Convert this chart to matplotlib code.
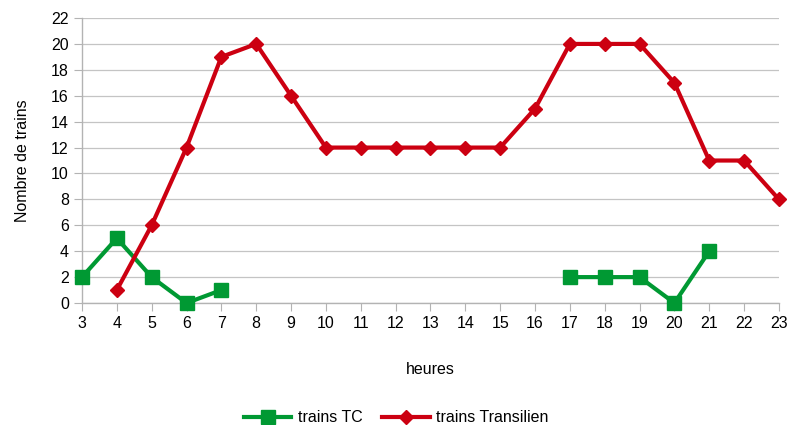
import numpy as np
import matplotlib
matplotlib.use('Agg')
import matplotlib.pyplot as plt

plt.rcParams['font.family'] = ['Liberation Sans', 'DejaVu Sans']

# donnees
hours_tc = [3, 4, 5, 6, 7, 17, 18, 19, 20, 21]
trains_tc = [2, 5, 2, 0, 1, 2, 2, 2, 0, 4]
hours_tr = list(range(4, 24))
trains_tr = [1, 6, 12, 19, 20, 16, 12, 12, 12, 12, 12, 12, 15, 20, 20, 20, 17, 11, 11, 8]

# trou entre 7h et 17h pour les TC
tc_x = hours_tc[:5] + [np.nan] + hours_tc[5:]
tc_y = trains_tc[:5] + [np.nan] + trains_tc[5:]

fig = plt.figure(figsize=(7.92, 4.25), dpi=100)
ax = fig.add_axes([0.1035, 0.287, 0.88, 0.6706])

ax.plot(tc_x, tc_y, color='#009933', lw=3.0, marker='s', ms=10,
        label='trains TC', clip_on=False, zorder=3)
ax.plot(hours_tr, trains_tr, color='#cc0011', lw=3.0, marker='D', ms=7.5,
        label='trains Transilien', clip_on=False, zorder=4)

ax.set_xlim(3, 23)
ax.set_ylim(0, 22)
ax.set_xticks(range(3, 24))
ax.set_yticks(range(0, 23, 2))
ax.yaxis.grid(True, color='#c4c4c4', lw=0.9)
ax.set_axisbelow(True)
for s in ['top', 'right']:
    ax.spines[s].set_visible(False)
for s in ['left', 'bottom']:
    ax.spines[s].set_color('#b3b3b3')
    ax.spines[s].set_linewidth(1.0)
ax.tick_params(axis='both', colors='#b3b3b3', labelcolor='black',
               labelsize=11.5, length=6, direction='out')
ax.set_xlabel('heures', fontsize=11.5, labelpad=22)
ax.set_ylabel('Nombre de trains', fontsize=11.5, labelpad=15)

fig.legend(loc='lower center', ncol=2, frameon=False, fontsize=11.5,
           bbox_to_anchor=(0.5, -0.035), handlelength=3, columnspacing=1.2,
           handletextpad=0.4)

fig.savefig('out.png', dpi=100)
